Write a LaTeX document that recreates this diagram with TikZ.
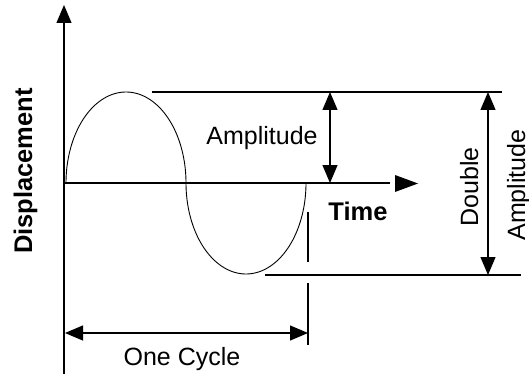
\documentclass[tikz,border=0pt]{standalone}
\usepackage{fontspec}
\setmainfont{Liberation Sans}
\usetikzlibrary{arrows.meta}
\begin{document}
\begin{tikzpicture}[x=1pt,y=-1pt,
  ln/.style={line width=1.2pt},
  tip/.style={-{Triangle[length=18pt,width=15pt]}},
  dbl/.style={{Triangle[length=18pt,width=15pt]}-{Triangle[length=18pt,width=15pt]}},
  wave/.style={line width=0.9pt},
  lbl/.style={font=\fontsize{25}{25}\selectfont, inner sep=0pt},
  blbl/.style={font=\fontsize{25.5}{25}\selectfont\bfseries, inner sep=0pt}]
\useasboundingbox (0,0) rectangle (529,374);
% coordinates
\coordinate (ybot) at (64,374);
\coordinate (ytop) at (64,5);
\coordinate (o) at (64,183);
\coordinate (xend) at (390,183);
\coordinate (topL) at (152,92);
\coordinate (topR) at (502,92);
\coordinate (botL) at (265,275);
\coordinate (botR) at (521,275);
\coordinate (a1) at (330,92);
\coordinate (a2) at (330,183);
\coordinate (d1) at (488,92);
\coordinate (d2) at (488,275);
\coordinate (m1) at (308,212);
\coordinate (m2) at (308,262);
\coordinate (m3) at (308,283);
\coordinate (m4) at (308,345);
\coordinate (c1) at (65,333);
\coordinate (c2) at (308,333);
% axes
\draw[ln,tip] (ybot) -- (ytop);
\draw[ln] (o) -- (xend);
\fill (395,175) -- (418,183.5) -- (395,192) -- cycle;
% wave: two half-ellipses
\draw[wave] plot[domain=0:180,samples=80] ({126-60*cos(\x)},{183-91*sin(\x)});
\draw[wave] plot[domain=0:180,samples=80] ({246-60*cos(\x)},{183+91*sin(\x)});
% reference lines
\draw[ln] (topL) -- (topR);
\draw[ln] (botL) -- (botR);
\draw[ln] (m1) -- (m2);
\draw[ln] (m3) -- (m4);
% dimension arrows
\draw[ln,dbl] (a1) -- (a2);
\draw[ln,dbl] (d1) -- (d2);
\draw[ln,dbl] (c1) -- (c2);
% labels
\node[lbl,anchor=base] (amp) at (262,145) {Amplitude};
\node[blbl,anchor=base] (time) at (358,220) {Time};
\node[lbl,anchor=base] (cyc) at (182,365) {One Cycle};
\node[blbl,anchor=base,rotate=90] (disp) at (32,171) {Displacement};
\node[lbl,anchor=base,rotate=90] (dbltxt) at (478,187) {Double};
\node[lbl,anchor=base,rotate=90] (amp2) at (525,185) {Amplitude};
\end{tikzpicture}
\end{document}
